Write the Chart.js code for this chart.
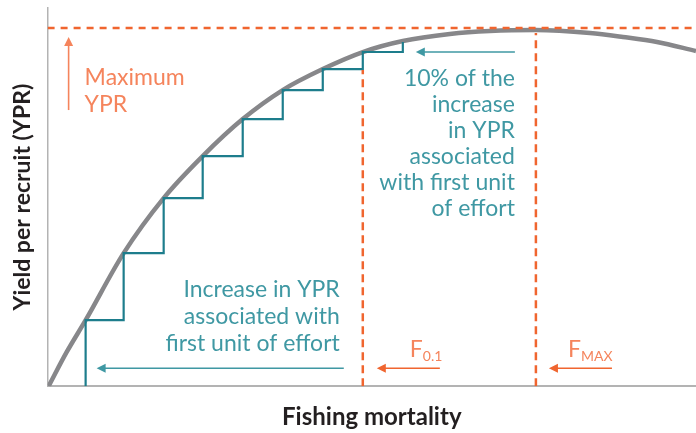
<!DOCTYPE html>
<html>
<head>
<meta charset="utf-8">
<script src="https://cdn.jsdelivr.net/npm/chart.js@4/dist/chart.umd.min.js"></script>
<style>
    html, body { margin: 0; padding: 0; background: #fff; }
    #wrap { width: 696px; height: 433px; position: relative; }
</style>
</head>
<body>
<div id="wrap"><canvas id="yprChart"></canvas></div>
<script>
// YPR curve (fishing mortality vs yield per recruit, arbitrary units)
const curveF   = [1, 19, 38, 76, 116, 155, 195, 235, 275, 315, 355, 402, 442, 488, 542, 575, 609, 648];
const curveYPR = [0, 34, 66, 133, 188, 230, 267, 296, 317, 334, 345, 352, 355, 356, 353, 349, 344, 335];

// Staircase: one unit of effort per step
const stepF   = [38, 38, 76, 116, 155, 195, 235, 275, 315, 355];
const stepYPR = [0, 66, 133, 188, 230, 267, 296, 317, 334, 344];

// Reference points
const maxYPR = 358;
const fZeroOne = 315;
const fZeroOneTop = 316;
const fMax = 488;
const fMaxTop = 353;

const xMax = 648;
const yMax = 378;

const ORANGE = "#f0652f";
const ORANGE_TEXT = "#f5845c";
const TEAL = "#1d7d8c";
const TEAL_TEXT = "#3f98a3";
const GREY = "#87878a";
const FONT = "Lato, 'Open Sans', sans-serif";

// Arrows: [fromF, fromY, toF, toY, colour]
const arrows = [
    [21, 276, 21, 349, ORANGE_TEXT],
    [296, 18, 49, 18, TEAL_TEXT],
    [467, 334, 368, 334, TEAL_TEXT],
    [392, 18, 329, 18, ORANGE],
    [564, 18, 501, 18, ORANGE]
];

// Text blocks: lines, anchor F, first baseline Y, line step, align, colour
const labels = [
    { lines: ["Maximum", "YPR"], f: 37, y: 301, step: 27, align: "left", color: ORANGE_TEXT },
    { lines: ["Increase in YPR", "associated with", "first unit of effort"], f: 292, y: 89, step: 27, align: "right", color: TEAL_TEXT },
    { lines: ["10% of the", "increase", "in YPR", "associated", "with first unit", "of effort"], f: 467, y: 300, step: 26, align: "right", color: TEAL_TEXT }
];

// F labels with subscript
const fLabels = [
    { main: "F", sub: "0.1", f: 362, y: 29 },
    { main: "F", sub: "MAX", f: 520, y: 29 }
];

const toPts = (xs, ys) => xs.map((x, i) => ({ x, y: ys[i] }));

const annotationPlugin = {
    id: "annotations",
    afterDatasetsDraw(chart) {
        const ctx = chart.ctx;
        const xs = chart.scales.x;
        const ys = chart.scales.y;
        ctx.save();

        // arrows
        arrows.forEach(([f0, y0, f1, y1, color]) => {
            const x0 = xs.getPixelForValue(f0), py0 = ys.getPixelForValue(y0);
            const x1 = xs.getPixelForValue(f1), py1 = ys.getPixelForValue(y1);
            const ang = Math.atan2(py1 - py0, x1 - x0);
            const len = 9, half = 4.5;
            ctx.strokeStyle = color;
            ctx.fillStyle = color;
            ctx.lineWidth = 1.6;
            ctx.beginPath();
            ctx.moveTo(x0, py0);
            ctx.lineTo(x1 - Math.cos(ang) * len * 0.8, py1 - Math.sin(ang) * len * 0.8);
            ctx.stroke();
            ctx.beginPath();
            ctx.moveTo(x1, py1);
            ctx.lineTo(x1 - Math.cos(ang) * len - Math.sin(ang) * half, py1 - Math.sin(ang) * len + Math.cos(ang) * half);
            ctx.lineTo(x1 - Math.cos(ang) * len + Math.sin(ang) * half, py1 - Math.sin(ang) * len - Math.cos(ang) * half);
            ctx.closePath();
            ctx.fill();
        });

        // text blocks
        ctx.textBaseline = "alphabetic";
        ctx.font = "400 23px " + FONT;
        labels.forEach(lb => {
            ctx.fillStyle = lb.color;
            ctx.textAlign = lb.align;
            lb.lines.forEach((line, i) => {
                ctx.fillText(line, xs.getPixelForValue(lb.f), ys.getPixelForValue(lb.y) + i * lb.step);
            });
        });

        // F0.1 / FMAX
        ctx.textAlign = "left";
        ctx.fillStyle = ORANGE_TEXT;
        fLabels.forEach(lb => {
            const px = xs.getPixelForValue(lb.f);
            const py = ys.getPixelForValue(lb.y);
            ctx.font = "400 23px " + FONT;
            ctx.fillText(lb.main, px, py);
            const w = ctx.measureText(lb.main).width;
            ctx.font = "400 14px " + FONT;
            ctx.fillText(lb.sub, px + w, py + 4);
        });

        ctx.restore();
    }
};

// Chart
const ctx = document.getElementById("yprChart").getContext("2d");
const chart = new Chart(ctx, {
    type: "scatter",
    data: {
        datasets: [
            {
                label: "Max YPR",
                data: toPts([0, xMax], [maxYPR, maxYPR]),
                showLine: true,
                borderColor: ORANGE,
                borderWidth: 2.5,
                borderDash: [7, 6],
                pointRadius: 0
            },
            {
                label: "F0.1",
                data: toPts([fZeroOne, fZeroOne], [0, fZeroOneTop]),
                showLine: true,
                borderColor: ORANGE,
                borderWidth: 2.5,
                borderDash: [8, 5],
                pointRadius: 0
            },
            {
                label: "FMAX",
                data: toPts([fMax, fMax], [0, fMaxTop]),
                showLine: true,
                borderColor: ORANGE,
                borderWidth: 2.5,
                borderDash: [8, 5],
                pointRadius: 0
            },
            {
                label: "Steps",
                data: toPts(stepF, stepYPR),
                showLine: true,
                stepped: "before",
                borderColor: TEAL,
                borderWidth: 2.2,
                pointRadius: 0
            },
            {
                label: "YPR",
                data: toPts(curveF, curveYPR),
                showLine: true,
                cubicInterpolationMode: "monotone",
                borderColor: GREY,
                borderWidth: 4.5,
                pointRadius: 0
            }
        ]
    },
    options: {
        responsive: true,
        maintainAspectRatio: false,
        animation: false,
        layout: { padding: { top: 8, right: 0, bottom: 0, left: 0 } },
        plugins: {
            legend: { display: false },
            tooltip: { enabled: false }
        },
        scales: {
            x: {
                type: "linear",
                min: 0, max: xMax,
                ticks: { display: false },
                grid: { display: false, drawTicks: false },
                border: { display: true, color: "#b3b3b3", width: 2 },
                title: {
                    display: true,
                    text: "Fishing mortality",
                    color: "#231f20",
                    font: { family: FONT, size: 24, weight: "bold" },
                    padding: { top: 17, bottom: 1 }
                }
            },
            y: {
                type: "linear",
                min: 0, max: yMax,
                ticks: { display: false },
                grid: { display: false, drawTicks: false },
                border: { display: true, color: "#b3b3b3", width: 1.5 },
                title: {
                    display: true,
                    text: "Yield per recruit (YPR)",
                    color: "#231f20",
                    font: { family: FONT, size: 23, weight: "bold" },
                    padding: { top: 9, bottom: 11 }
                }
            }
        }
    },
    plugins: [annotationPlugin]
});
</script>
</body>
</html>
